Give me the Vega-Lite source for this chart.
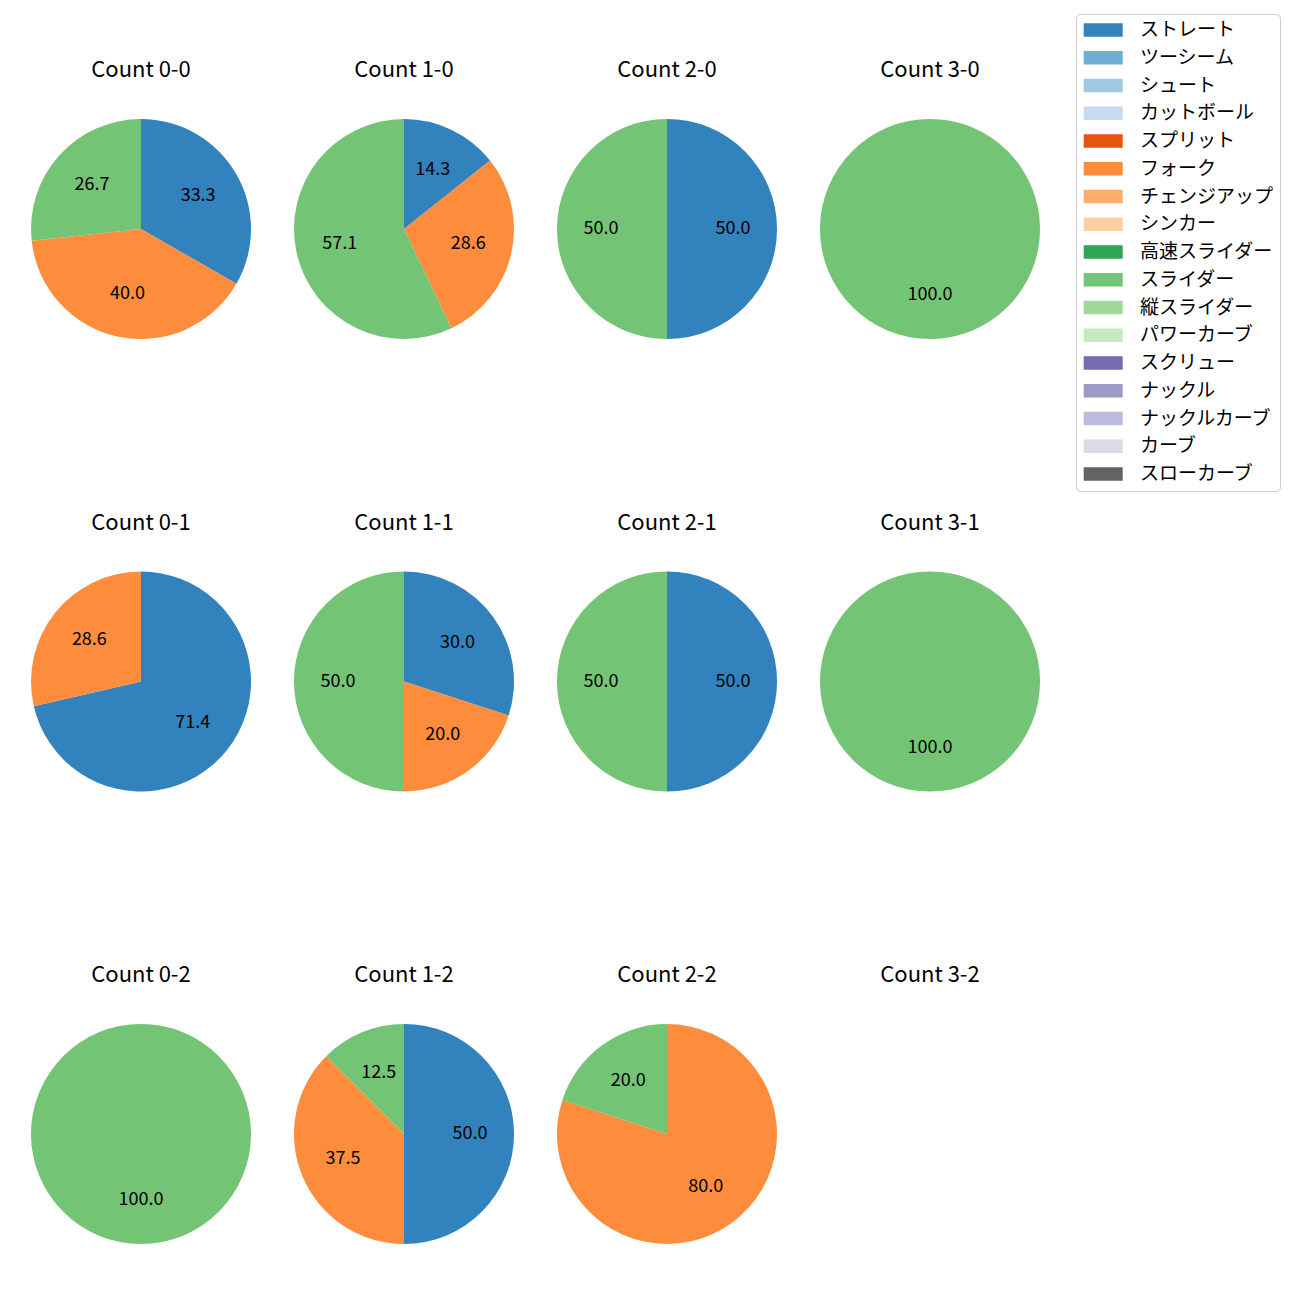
{
  "$schema": "https://vega.github.io/schema/vega-lite/v6.json",
  "background": "white",
  "padding": {"left": 31, "top": 13, "right": 10, "bottom": 10},
  "data": {"values": [
    {"count": "Count 0-0", "pitch": "ストレート", "o": 1, "pct": 33.3},
    {"count": "Count 0-0", "pitch": "フォーク", "o": 6, "pct": 40.0},
    {"count": "Count 0-0", "pitch": "スライダー", "o": 10, "pct": 26.7},
    {"count": "Count 1-0", "pitch": "ストレート", "o": 1, "pct": 14.3},
    {"count": "Count 1-0", "pitch": "フォーク", "o": 6, "pct": 28.6},
    {"count": "Count 1-0", "pitch": "スライダー", "o": 10, "pct": 57.1},
    {"count": "Count 2-0", "pitch": "ストレート", "o": 1, "pct": 50.0},
    {"count": "Count 2-0", "pitch": "スライダー", "o": 10, "pct": 50.0},
    {"count": "Count 3-0", "pitch": "スライダー", "o": 10, "pct": 100.0},
    {"count": "Count 0-1", "pitch": "ストレート", "o": 1, "pct": 71.4},
    {"count": "Count 0-1", "pitch": "フォーク", "o": 6, "pct": 28.6},
    {"count": "Count 1-1", "pitch": "ストレート", "o": 1, "pct": 30.0},
    {"count": "Count 1-1", "pitch": "フォーク", "o": 6, "pct": 20.0},
    {"count": "Count 1-1", "pitch": "スライダー", "o": 10, "pct": 50.0},
    {"count": "Count 2-1", "pitch": "ストレート", "o": 1, "pct": 50.0},
    {"count": "Count 2-1", "pitch": "スライダー", "o": 10, "pct": 50.0},
    {"count": "Count 3-1", "pitch": "スライダー", "o": 10, "pct": 100.0},
    {"count": "Count 0-2", "pitch": "スライダー", "o": 10, "pct": 100.0},
    {"count": "Count 1-2", "pitch": "ストレート", "o": 1, "pct": 50.0},
    {"count": "Count 1-2", "pitch": "フォーク", "o": 6, "pct": 37.5},
    {"count": "Count 1-2", "pitch": "スライダー", "o": 10, "pct": 12.5},
    {"count": "Count 2-2", "pitch": "フォーク", "o": 6, "pct": 80.0},
    {"count": "Count 2-2", "pitch": "スライダー", "o": 10, "pct": 20.0},
    {"count": "Count 3-2", "pitch": "ストレート", "o": 1, "pct": 0}
  ]},
  "facet": {
    "field": "count", "type": "nominal",
    "sort": ["Count 0-0", "Count 1-0", "Count 2-0", "Count 3-0", "Count 0-1", "Count 1-1", "Count 2-1", "Count 3-1", "Count 0-2", "Count 1-2", "Count 2-2", "Count 3-2"],
    "header": {"title": null, "labelFontSize": 22, "labelFont": "Noto Sans CJK JP", "labelColor": "black", "labelPadding": 37}
  },
  "columns": 4,
  "spacing": {"column": 43, "row": 172.5},
  "spec": {
    "width": 220,
    "height": 220,
    "view": {"stroke": null},
    "encoding": {
      "theta": {"field": "pct", "type": "quantitative", "stack": true, "scale": {"domain": [0, 100]}},
      "order": {"field": "o", "type": "quantitative"}
    },
    "layer": [
      {
        "mark": {"type": "arc", "outerRadius": 110},
        "encoding": {
          "color": {
            "field": "pitch", "type": "nominal",
            "scale": {
              "domain": ["ストレート", "ツーシーム", "シュート", "カットボール", "スプリット", "フォーク", "チェンジアップ", "シンカー", "高速スライダー", "スライダー", "縦スライダー", "パワーカーブ", "スクリュー", "ナックル", "ナックルカーブ", "カーブ", "スローカーブ"],
              "range": ["#3182bd", "#6baed6", "#9ecae1", "#c6dbef", "#e6550d", "#fd8d3c", "#fdae6b", "#fdd0a2", "#31a354", "#74c476", "#a1d99b", "#c7e9c0", "#756bb1", "#9e9ac8", "#bcbddc", "#dadaeb", "#636363"]
            },
            "legend": {
              "title": null,
              "orient": "none",
              "legendX": 1045,
              "legendY": -105,
              "values": ["ストレート", "ツーシーム", "シュート", "カットボール", "スプリット", "フォーク", "チェンジアップ", "シンカー", "高速スライダー", "スライダー", "縦スライダー", "パワーカーブ", "スクリュー", "ナックル", "ナックルカーブ", "カーブ", "スローカーブ"],
              "symbolType": "M-2.87,-1H2.87V1H-2.87Z",
              "symbolSize": 185,
              "symbolStrokeWidth": 0,
              "symbolOffset": 11.2,
              "labelFontSize": 19,
              "labelFont": "Noto Sans CJK JP",
              "labelColor": "black",
              "labelOffset": 27.2,
              "rowPadding": 7.75,
              "padding": 6.5,
              "strokeColor": "#cccccc",
              "cornerRadius": 4,
              "fillColor": "white"
            }
          }
        }
      },
      {
        "transform": [{"filter": "datum.pct > 0"}],
        "mark": {"type": "text", "radius": 66, "fontSize": 18, "font": "Noto Sans CJK JP", "color": "black"},
        "encoding": {
          "text": {"field": "pct", "type": "quantitative", "format": ".1f"}
        }
      }
    ]
  }
}
